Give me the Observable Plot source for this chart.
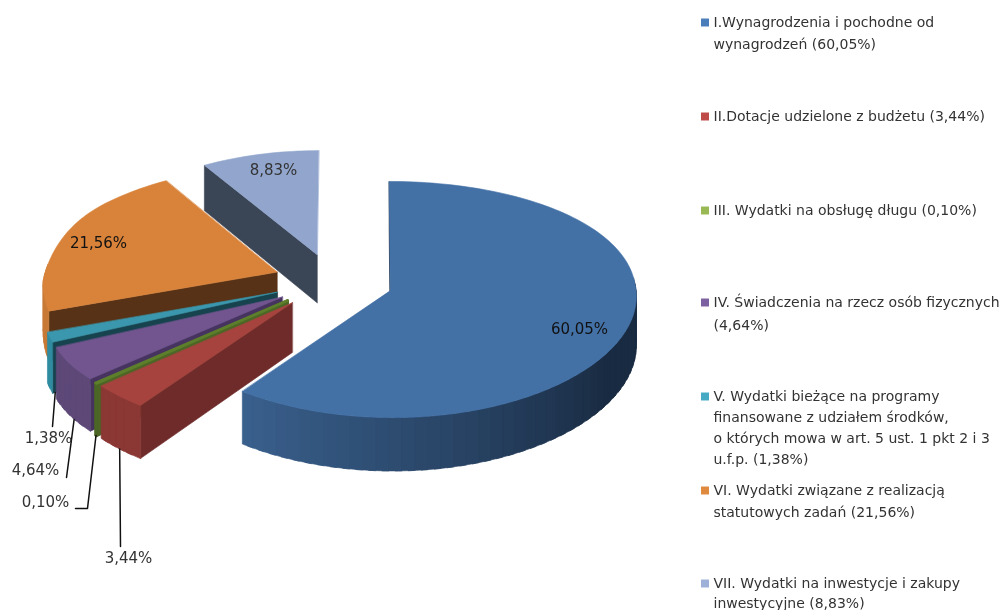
<!DOCTYPE html>
<html><head><meta charset="utf-8">
<script src="https://cdn.jsdelivr.net/npm/d3@7"></script>
<script src="https://cdn.jsdelivr.net/npm/@observablehq/plot@0.6"></script>
<style>html,body{margin:0;background:#fff}svg{display:block;filter:blur(.45px)}</style>
</head><body><div id="chart"></div>
<script>
// values
const shares = [60.05, 3.44, 0.10, 4.64, 1.38, 21.56, 8.83];
const legendText = [
  ["I.Wynagrodzenia i pochodne od", "wynagrodzeń (60,05%)"],
  ["II.Dotacje udzielone z budżetu (3,44%)"],
  ["III. Wydatki na obsługę długu (0,10%)"],
  ["IV. Świadczenia na rzecz osób fizycznych", "(4,64%)"],
  ["V. Wydatki bieżące na programy", "finansowane z udziałem środków,", "o których mowa w art. 5 ust. 1 pkt 2 i 3", "u.f.p. (1,38%)"],
  ["VI. Wydatki związane z realizacją", "statutowych zadań (21,56%)"],
  ["VII. Wydatki na inwestycje i zakupy", "inwestycyjne (8,83%)"]
];
// styles
const topColor   = ["#4371a6", "#a6433f", "#5d7f2c", "#72558f", "#3a97ad", "#d9833a", "#92a6cd"];
const cutColor   = ["#1b2e46", "#6e2b2a", "#4c6625", "#46335f", "#17434f", "#573216", "#3a4556"];
const wallColor  = ["#3a618e", "#8b3734", "#4c6625", "#5d4878", "#2f8ba0", "#c87a36", "#3a4556"];
const wallDark   = "#192b42";
const legendSwatch = ["#4a7ebb", "#be4b48", "#98b954", "#7d60a0", "#46aac5", "#e08a40", "#9cb0d8"];
const seam = [0.6, 0.6, 2.6, 0.6, 0.6, 0.6, 0.6];
// layout
const legendY = [[22,44],[116],[210],[302,325],[396,417,438,459],[490,512],[583,603]];
const labelPos = [[579,329],[128,558],[45,502],[35,470],[48,438],[98,243],[273,170]];
const labelInk = ["#111","#333","#333","#333","#333","#111","#333"];
const leaderRoute = [null, [[120,546]], [[87,508],[75,508]], [[66,477]], [[52,426]], null, null];
const leaderAt = [0, .5, .5, .38, 0, 0, 0];
const leaderR = [1, 1, 1, 1, .985, 1, 1];

// projection
const cx = 332.6, cy = 281, rx = 245, ry = 116, depth = 49, explode = 0.245;
const kY = 0.077, kBackLeft = 0.12, kBackRight = 0.02, kFront = 0.04;
const squeeze = 0.84;
const rad = d => d * Math.PI / 180;
function project(X, Y, z) {
  const kx = Y < 0 ? (X < 0 ? kBackLeft : kBackRight) : kFront;
  const fy = 1 / (1 - kY * Y), fx = 1 / (1 - kx * Y);
  const u = -X - 1;
  const Xs = u > 0 ? -1 - (u - squeeze * u * u) : X;
  return {x: cx + rx * Xs * fx, y: cy + (ry * Y + depth * z) * fy};
}
const bounds = d3.cumsum(shares).map(v => v * 3.6);
const starts = bounds.map((b, i) => i ? bounds[i - 1] : 0);
const ends = bounds.map((b, i) => i === shares.length - 1 ? 360 : b);
function at(i, deg, r, z) {
  const m = rad((starts[i] + ends[i]) / 2), a = rad(deg);
  return project(explode * Math.sin(m) + r * Math.sin(a), -explode * Math.cos(m) - r * Math.cos(a), z);
}
function arc(a, b, step = 1.5) {
  const n = Math.max(1, Math.ceil(Math.abs(b - a) / step));
  return d3.range(n + 1).map(j => a + (b - a) * j / n);
}
// one table of polygons per slice, back to front
function polygons(i) {
  const rows = [];
  const poly = (id, fill, pts) => pts.forEach(p => rows.push({...p, id, fill}));
  const s = starts[i], e = ends[i];
  // cut face at the slice's start angle
  poly("cut", cutColor[i], [at(i,s,0,0), at(i,s,1,0), at(i,s,1,1), at(i,s,0,1)]);
  // outer wall, only on the near half; pieces overlap so no seams show
  const a = Math.max(s, 84), b = Math.min(e, 274);
  if (b > a) {
    const ang = arc(a, b, i === 2 ? 1 : 3);
    for (let j = 0; j < ang.length - 1; j++) {
      const fill = i === 0
        ? d3.interpolateRgb(wallDark, wallColor[0])(Math.max(0, Math.min(1, (ang[j] - 120) / 96)))
        : wallColor[i];
      const next = Math.min(ang[j + 1] + 1.5, b);
      poly("w" + j, fill, [at(i,ang[j],1,0), at(i,next,1,0), at(i,next,1,1), at(i,ang[j],1,1)]);
    }
  }
  // top face
  poly("top", topColor[i], [at(i,s,0,0), ...arc(s, e).map(d => at(i,d,1,0))]);
  return rows;
}
const order = [6, 5, 4, 3, 2, 1, 0];
const sliceMarks = order.map(i => Plot.line(polygons(i), {
  x: "x", y: "y", z: "id", fill: "fill", stroke: "fill", strokeWidth: seam[i], curve: "linear-closed"
}));

// labels and leaders
const pct = shares.map(v => v.toFixed(2).replace(".", ",") + "%");
const labelRows = shares.map((v, i) => ({x: labelPos[i][0], y: labelPos[i][1], t: pct[i], ink: labelInk[i]}));
const leaderRows = shares.flatMap((v, i) => {
  if (!leaderRoute[i]) return [];
  const d = starts[i] + (ends[i] - starts[i]) * leaderAt[i];
  const a = at(i, d, leaderR[i], 1);
  return [{...a, id: i}, ...leaderRoute[i].map(([x, y]) => ({x, y, id: i}))];
});
const legendRows = legendText.flatMap((lines, i) => lines.map((t, j) => ({t, x: 713, y: legendY[i][j]})));
const swatchRows = legendText.map((l, i) => ({x: 704.5, y: legendY[i][0], fill: legendSwatch[i]}));

const chart = Plot.plot({
  width: 1000, height: 610, margin: 0,
  x: {domain: [0, 1000], range: [0, 1000], axis: null},
  y: {domain: [0, 610], range: [0, 610], axis: null},
  color: {type: "identity"},
  style: {background: "#fff"},
  marks: [
    ...sliceMarks,
    Plot.line(leaderRows, {x: "x", y: "y", z: "id", stroke: "#111", strokeWidth: 1.5, curve: "linear"}),
    Plot.text(labelRows, {x: "x", y: "y", text: "t", fill: "ink", fontSize: 15, fontFamily: "DejaVu Sans"}),
    Plot.dot(swatchRows, {x: "x", y: "y", fill: "fill", symbol: "square", r: 4.5, stroke: null}),
    Plot.text(legendRows, {x: "x", y: "y", text: "t", textAnchor: "start", fill: "#333", fontSize: 14, fontFamily: "DejaVu Sans"})
  ]
});
document.getElementById("chart").append(chart);
</script></body></html>
